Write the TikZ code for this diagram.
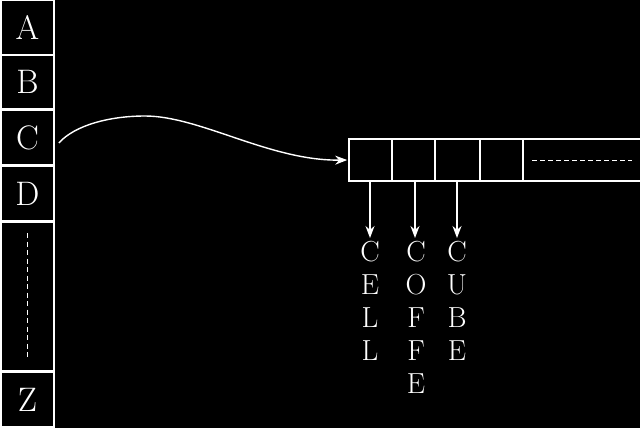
\documentclass[tikz,border=0pt]{standalone}
\usepackage{fontspec}
\usetikzlibrary{arrows.meta}
\begin{document}
\begin{tikzpicture}[x=1pt,y=-1pt,
  wline/.style={draw=white,line width=1.6pt},
  colbox/.style={wline,rectangle,inner sep=0pt,minimum width=53pt,text=white,font=\fontsize{34}{40}\selectfont},
  cellbox/.style={wline,rectangle,inner sep=0pt,minimum height=42pt},
  word/.style={text=white,align=center,inner sep=3pt,font=\fontsize{29}{33}\selectfont},
  arr/.style={white,line width=1.4pt,-{Stealth[length=12pt,width=9pt]}},
  dashline/.style={white,line width=1pt,dash pattern=on 5pt off 3.5pt}]
\fill[black] (0,0) rectangle (640,428);
\useasboundingbox (0,0) rectangle (640,428);
% left column
\node[colbox,minimum height=54pt] (A) at (27.5,27.5) {A};
\node[colbox,minimum height=54pt] (B) at (27.5,82) {B};
\node[colbox,minimum height=55pt] (C) at (27.5,137.5) {C};
\node[colbox,minimum height=55pt] (D) at (27.5,193.5) {D};
\node[colbox,minimum height=149pt] (E) at (27.5,296.5) {};
\node[colbox,minimum height=55pt] (Z) at (27.5,399.5) {Z};
\coordinate (e1) at (27,233);
\coordinate (e2) at (27,359);
\draw[dashline] (e1) -- (e2);
% array
\node[cellbox,minimum width=43pt] (c1) at (370.5,160) {};
\node[cellbox,minimum width=43pt] (c2) at (413.5,160) {};
\node[cellbox,minimum width=45pt] (c3) at (457.5,160) {};
\node[cellbox,minimum width=43pt] (c4) at (501.5,160) {};
\node[cellbox,minimum width=118pt] (c5) at (582,160) {};
\coordinate (d1) at (532,160);
\coordinate (d2) at (632,160);
\draw[dashline,dash pattern=on 5pt off 3pt] (d1) -- (d2);
% curve
\draw[arr,shorten >=1pt] ([shift={(4,5.5)}]C.east) .. controls (75,125) and (110,116) .. (145,116)
  .. controls (200,116) and (270,161) .. (c1.west);
% words
\node[word,anchor=north] (w1) at (370,238) {C\\E\\L\\L};
\node[word,anchor=north] (w2) at (416,238) {C\\O\\F\\F\\E};
\node[word,anchor=north] (w3) at (457,238) {C\\U\\B\\E};
\draw[arr] (c1.south -| w1.north) -- (w1.north);
\draw[arr] ([xshift=-1pt]c2.south -| w2.north) -- ([xshift=-1pt]w2.north);
\draw[arr] (c3.south -| w3.north) -- (w3.north);
\end{tikzpicture}
\end{document}
